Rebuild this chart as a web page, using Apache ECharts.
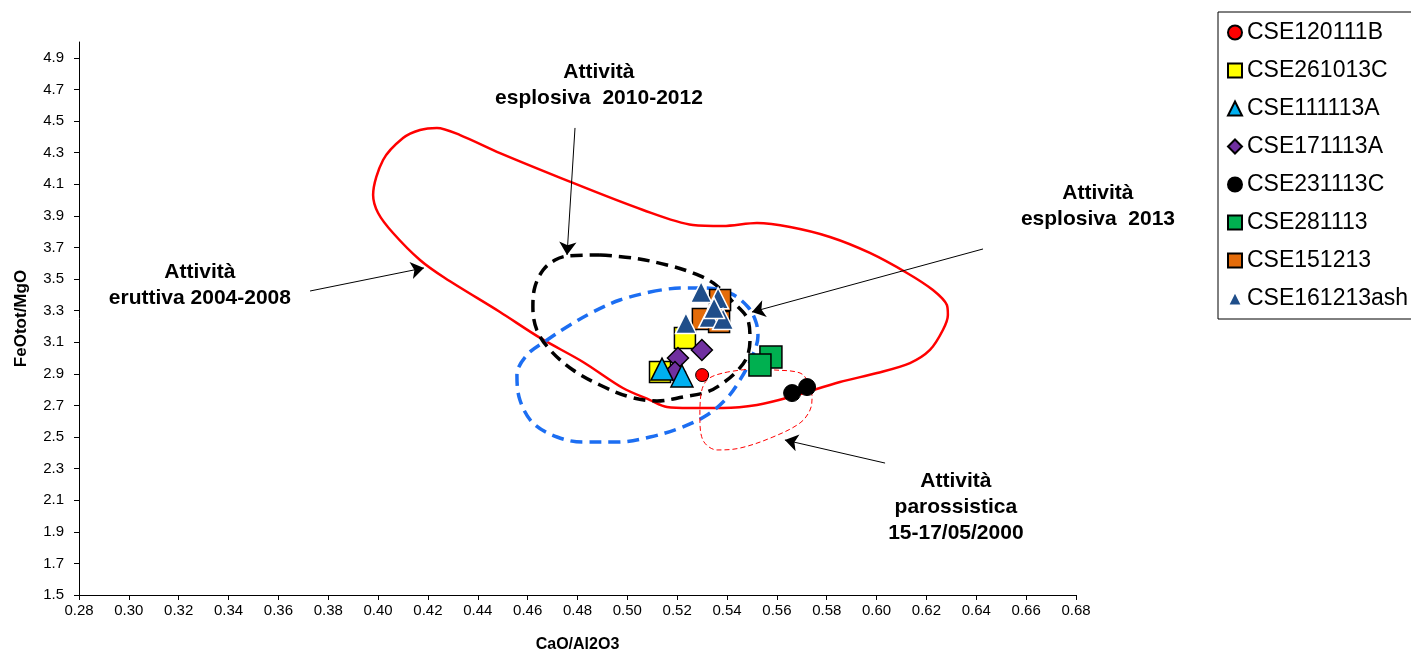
<!DOCTYPE html>
<html>
<head>
<meta charset="utf-8">
<script src="https://cdn.jsdelivr.net/npm/echarts@6/dist/echarts.min.js"></script>
<style>
html,body{margin:0;padding:0;background:#fff;overflow:hidden;}
#chart{width:1411px;height:652px;}
</style>
</head>
<body>
<div id="chart"></div>
<script>
// ---- axis ticks ----
const xTicks = [0.28,0.30,0.32,0.34,0.36,0.38,0.40,0.42,0.44,0.46,0.48,0.50,0.52,0.54,0.56,0.58,0.60,0.62,0.64,0.66,0.68];
const yTicks = [1.5,1.7,1.9,2.1,2.3,2.5,2.7,2.9,3.1,3.3,3.5,3.7,3.9,4.1,4.3,4.5,4.7,4.9];

// ---- sample points [CaO/Al2O3, FeOtot/MgO] ----
const CSE120111B = [[0.530,2.892]];
const CSE261013C = [[0.5231,3.127],[0.5131,2.911]];
const CSE111113A = [[0.5139,2.930],[0.5219,2.886]];
const CSE171113A = [[0.5203,3.000],[0.5299,3.051],[0.5191,2.911]];
const CSE231113C = [[0.5661,2.778],[0.5721,2.816]];
const CSE281113 = [[0.5576,3.006],[0.5532,2.956]];
const CSE151213 = [[0.5303,3.247],[0.5368,3.228],[0.5372,3.367]];
const CSE161213ash = [[0.5296,3.418],[0.5364,3.378],[0.5235,3.221],[0.5328,3.259],[0.5384,3.247],[0.5348,3.316]];

// ---- field envelopes ----
const eruttiva20042008 = [[0.4782,4.108],[0.5063,3.937],[0.5263,3.842],[0.5384,3.835],[0.5520,3.854],[0.5653,3.829],[0.5813,3.766],[0.5973,3.665],[0.6122,3.538],[0.6226,3.430],[0.6282,3.335],[0.6286,3.272],[0.6266,3.177],[0.6214,3.051],[0.6134,2.968],[0.6002,2.905],[0.5853,2.848],[0.5653,2.753],[0.5520,2.703],[0.5384,2.684],[0.5251,2.684],[0.5159,2.690],[0.5091,2.734],[0.4982,2.810],[0.4822,2.975],[0.4650,3.127],[0.4489,3.291],[0.4268,3.506],[0.4168,3.620],[0.4060,3.791],[0.4000,3.918],[0.3980,4.032],[0.4020,4.253],[0.4100,4.392],[0.4168,4.443],[0.4236,4.456],[0.4329,4.411],[0.4489,4.297],[0.4782,4.108]];
const esplosiva20102012 = [[0.4890,3.652],[0.5023,3.633],[0.5159,3.589],[0.5263,3.538],[0.5344,3.475],[0.5424,3.354],[0.5484,3.240],[0.5492,3.114],[0.5480,3.006],[0.5444,2.924],[0.5384,2.842],[0.5320,2.785],[0.5223,2.753],[0.5119,2.728],[0.5011,2.753],[0.4890,2.829],[0.4782,2.924],[0.4690,3.051],[0.4637,3.177],[0.4621,3.323],[0.4629,3.449],[0.4662,3.557],[0.4710,3.620],[0.4762,3.646],[0.4890,3.652]];
const esplosiva2013 = [[0.5091,3.418],[0.5211,3.443],[0.5311,3.443],[0.5412,3.411],[0.5484,3.323],[0.5516,3.228],[0.5524,3.139],[0.5500,3.006],[0.5452,2.861],[0.5400,2.747],[0.5320,2.639],[0.5211,2.557],[0.5091,2.500],[0.4958,2.468],[0.4822,2.468],[0.4718,2.500],[0.4621,2.589],[0.4569,2.734],[0.4557,2.892],[0.4597,3.019],[0.4678,3.114],[0.4770,3.209],[0.4862,3.291],[0.4970,3.367],[0.5091,3.418]];
const parossistica2000 = [[0.5492,2.930],[0.5592,2.924],[0.5693,2.905],[0.5725,2.848],[0.5741,2.753],[0.5733,2.671],[0.5693,2.589],[0.5584,2.500],[0.5452,2.430],[0.5360,2.418],[0.5303,2.481],[0.5291,2.627],[0.5295,2.766],[0.5320,2.861],[0.5384,2.905],[0.5492,2.930]];

// ---- annotations ----
const annotationTexts = ['Attività\nesplosiva  2010-2012','Attività\nesplosiva  2013','Attività\neruttiva 2004-2008','Attività\nparossistica\n15-17/05/2000'];
const annotationAt = [[0.4886,4.725],[0.6888,3.962],[0.3285,3.462],[0.6318,2.057]];
const arrowFrom = [[0.4790,4.456],[0.6427,3.690],[0.3727,3.424],[0.6034,2.335]];
const arrowTo = [[0.4758,3.652],[0.5500,3.291],[0.4184,3.570],[0.5632,2.481]];

const FONT = "'Liberation Sans', Arial, sans-serif";

function envelope(name, data, color, width, type, smooth){
  return {name:name, type:'line', data:data, showSymbol:false, symbol:'none', smooth:smooth,
    lineStyle:{color:color, width:width, type:type}, z:1, silent:true, clip:false};
}
function samples(name, data, symbol, size, color, border, bw, z){
  return {name:name, type:'scatter', data:data, symbol:symbol, symbolSize:size, z:z,
    itemStyle:{color:color, borderColor:border, borderWidth:bw, opacity:1}};
}

const chart = echarts.init(document.getElementById('chart'), null, {renderer:'canvas', width:1411, height:652});
chart.setOption({
  animation:false,
  backgroundColor:'#ffffff',
  textStyle:{fontFamily:FONT},
  grid:{left:79, right:335, top:42, bottom:57, containLabel:false, outerBoundsMode:'none'},
  legend:{
    left:1218, top:12, orient:'vertical',
    data:['CSE120111B','CSE261013C','CSE111113A','CSE171113A','CSE231113C','CSE281113','CSE151213','CSE161213ash'],
    itemWidth:14, itemHeight:14, itemGap:15,
    padding:[9,20,9,9],
    borderColor:'#000', borderWidth:1,
    textStyle:{fontFamily:FONT, fontSize:23, color:'#000'},
    selectedMode:false
  },
  xAxis:{
    type:'value', min:0.28, max:0.68, interval:0.02,
    name:'CaO/Al2O3', nameLocation:'middle', nameGap:42,
    nameTextStyle:{fontFamily:FONT, fontSize:16, fontWeight:'bold', color:'#000'},
    axisLine:{show:true, onZero:false, lineStyle:{color:'#000', width:1}},
    axisTick:{show:true, length:5, lineStyle:{color:'#000'}, customValues:xTicks},
    axisLabel:{fontFamily:FONT, fontSize:15, color:'#000', margin:8, customValues:xTicks,
      formatter:function(v){return v.toFixed(2);}},
    splitLine:{show:false}
  },
  yAxis:{
    type:'value', min:1.5, max:5.0,
    name:'FeOtot/MgO', nameLocation:'middle', nameGap:49,
    nameTextStyle:{fontFamily:FONT, fontSize:17, fontWeight:'bold', color:'#000'},
    axisLine:{show:true, onZero:false, lineStyle:{color:'#000', width:1}},
    axisTick:{show:true, length:5, lineStyle:{color:'#000'}, customValues:yTicks},
    axisLabel:{fontFamily:FONT, fontSize:15, color:'#000', margin:15, customValues:yTicks,
      formatter:function(v){return v.toFixed(1);}},
    splitLine:{show:false}
  },
  series:[
    envelope('eruttiva', eruttiva20042008, '#FF0000', 2.5, 'solid', 0.3),
    envelope('esplosiva1012', esplosiva20102012, '#000000', 3.5, [12,7], 0.35),
    envelope('esplosiva13', esplosiva2013, '#1C6EF2', 3.5, [12,7], 0.35),
    envelope('parossistica', parossistica2000, '#FF0000', 1, [5,3], 0.35),
    {
      name:'arrows', type:'lines', coordinateSystem:'cartesian2d', silent:true, z:5,
      symbol:['none','arrow'], symbolSize:13,
      lineStyle:{color:'#000', width:1, opacity:1},
      data:arrowFrom.map(function(f,i){return {coords:[f, arrowTo[i]]};})
    },
    samples('CSE120111B', CSE120111B, 'circle', 13, '#FF0000', '#000', 1, 10),
    samples('CSE261013C', CSE261013C, 'rect', 21, '#FFFF00', '#000', 1.5, 10),
    samples('CSE111113A', CSE111113A, 'triangle', [22,22], '#00B0F0', '#000', 1.5, 12),
    samples('CSE171113A', CSE171113A, 'diamond', [21,21], '#7030A0', '#000', 1.5, 11),
    samples('CSE231113C', CSE231113C, 'circle', 17, '#000000', '#000', 1, 10),
    samples('CSE281113', CSE281113, 'rect', 22, '#00B050', '#000', 1.5, 10),
    samples('CSE151213', CSE151213, 'rect', 21, '#E46C0A', '#000', 1.5, 10),
    samples('CSE161213ash', CSE161213ash, 'triangle', [21,21], '#1F4E8A', '#FFFFFF', 1.5, 13)
  ]
});

// annotation texts placed at data coordinates through the chart's own scales
chart.setOption({
  graphic: annotationTexts.map(function(t,i){
    const p = chart.convertToPixel({gridIndex:0}, annotationAt[i]);
    return {type:'text', x:p[0], y:p[1], z:100, silent:true,
      style:{text:t, fill:'#000', font:"bold 21px 'Liberation Sans', Arial, sans-serif",
        align:'center', verticalAlign:'middle', lineHeight:26}};
  })
});
</script>
</body>
</html>
